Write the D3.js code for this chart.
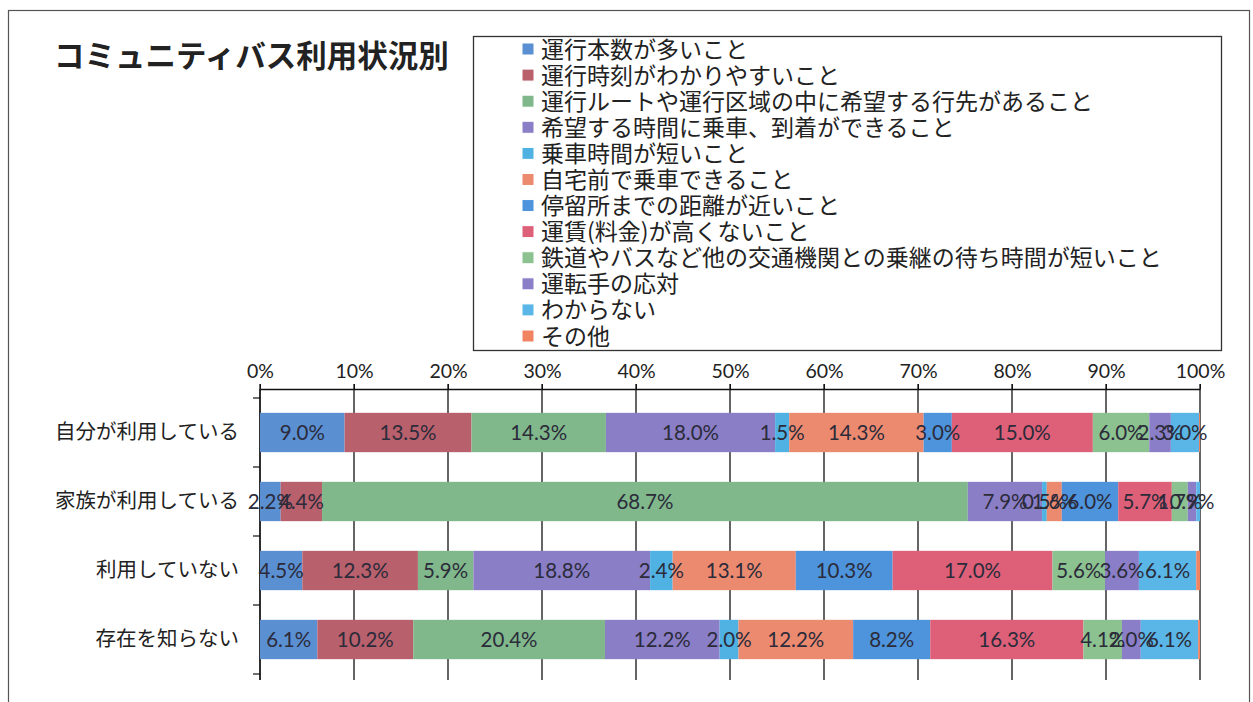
<!DOCTYPE html>
<html><head><meta charset="utf-8">
<script src="https://cdn.jsdelivr.net/npm/d3@7"></script>
<style>body{margin:0;background:#fff}svg{display:block}</style>
</head><body>
<svg id="c" width="1253" height="702"></svg>
<script>
const title = "コミュニティバス利用状況別";
const categories = ["自分が利用している","家族が利用している","利用していない","存在を知らない"];
const seriesNames = ["運行本数が多いこと","運行時刻がわかりやすいこと","運行ルートや運行区域の中に希望する行先があること","希望する時間に乗車、到着ができること","乗車時間が短いこと","自宅前で乗車できること","停留所までの距離が近いこと","運賃(料金)が高くないこと","鉄道やバスなど他の交通機関との乗継の待ち時間が短いこと","運転手の応対","わからない","その他"];
// values per category (percent), in series order
const valuesSelf    = [9.0,13.5,14.3,18.0,1.5,14.3,3.0,15.0,6.0,2.3,3.0,0.1];
const valuesFamily  = [2.2,4.4,68.7,7.9,0.5,1.6,6.0,5.7,1.7,0.9,0.4,0.0];
const valuesNotUse  = [4.5,12.3,5.9,18.8,2.4,13.1,10.3,17.0,5.6,3.6,6.1,0.4];
const valuesUnknown = [6.1,10.2,20.4,12.2,2.0,12.2,8.2,16.3,4.1,2.0,6.1,0.2];
const rows = [valuesSelf, valuesFamily, valuesNotUse, valuesUnknown];
const tickLabels = ["0%","10%","20%","30%","40%","50%","60%","70%","80%","90%","100%"];
const colors = ["#5a8fd2","#b8606c","#80b88c","#8a7ec6","#4fb2e2","#ec8a70","#4d94dc","#dd6078","#8cc190","#8a7ec8","#5ab6e6","#f08462"];

const svg = d3.select("#c");
const jp = "'Noto Sans CJK JP','Noto Sans',sans-serif";
const num = "Lato,'Noto Sans CJK JP',sans-serif";

// frame
svg.append("rect").attr("x",8.5).attr("y",10.5).attr("width",1241).attr("height",720)
  .attr("fill","none").attr("stroke","#555").attr("stroke-width",1.2);

svg.append("text").attr("x",54).attr("y",67).text(title)
  .attr("font-family",jp).attr("font-weight","bold").attr("font-size",30.5).attr("fill","#222");

// legend
svg.append("rect").attr("x",473.5).attr("y",36.5).attr("width",748).attr("height",314)
  .attr("fill","#fff").attr("stroke","#333").attr("stroke-width",1.3);
const ly = d3.scalePoint().domain(seriesNames).range([49,336]);
const lg = svg.append("g").selectAll("g").data(seriesNames).join("g")
  .attr("transform",d=>`translate(0,${ly(d)})`);
lg.append("rect").attr("x",522).attr("y",-6).attr("width",12).attr("height",12)
  .attr("fill",(d,i)=>colors[i]).attr("stroke","#fff").attr("stroke-width",1);
lg.append("text").attr("x",541).attr("y",8.5).text(d=>d)
  .attr("font-family",jp).attr("font-size",23).attr("fill","#222");

// scales
const x = d3.scaleLinear().domain([0,100]).range([260,1200]);
const y = d3.scaleBand().domain(categories).range([398,674]).paddingInner(0.43).paddingOuter(0.215);

// gridlines
const grid = svg.append("g");
grid.selectAll("line").data(d3.range(0,101,10)).join("line")
  .attr("x1",d=>x(d)).attr("x2",d=>x(d)).attr("y1",384).attr("y2",680)
  .attr("stroke","#111").attr("stroke-width",1.3);

// top axis
const xAxis = d3.axisTop(x).tickValues(d3.range(0,101,10)).tickFormat((d,i)=>tickLabels[i]).tickSize(5).tickSizeOuter(0);
const gx = svg.append("g").attr("transform","translate(0,389)").call(xAxis);
gx.select(".domain").attr("stroke","#111").attr("stroke-width",1.3);
gx.selectAll(".tick line").attr("stroke","#111");
gx.selectAll("text").attr("font-family",num).attr("font-size",19.5).attr("fill","#222").attr("dy","-0.15em");

// left axis
const yAxis = d3.axisLeft(y).tickSize(0).tickPadding(21);
const gy = svg.append("g").attr("transform","translate(260,0)").call(yAxis);
gy.select(".domain").remove();
gy.selectAll("text").attr("font-family",jp).attr("font-size",20.5).attr("fill","#222");
svg.append("line").attr("x1",260).attr("x2",260).attr("y1",389).attr("y2",680).attr("stroke","#111").attr("stroke-width",1.3);
const bounds = [398,467,536,605,674];
svg.append("g").selectAll("line").data(bounds).join("line")
  .attr("x1",253).attr("x2",260).attr("y1",d=>d).attr("y2",d=>d).attr("stroke","#111").attr("stroke-width",1.2);

// bars
const segs = [];
rows.forEach((vals,ri)=>{
  let acc = 0;
  vals.forEach((v,si)=>{ segs.push({cat:categories[ri],si,v,x0:acc,x1:acc+v}); acc+=v; });
});
const bars = svg.append("g");
bars.selectAll("rect").data(segs.filter(d=>d.v>0)).join("rect")
  .attr("x",d=>x(d.x0)).attr("width",d=>Math.max(0,x(d.x1)-x(d.x0)))
  .attr("y",d=>y(d.cat)).attr("height",y.bandwidth())
  .attr("fill",d=>colors[d.si]);
bars.selectAll("text").data(segs.filter(d=>d.v>=0.5)).join("text")
  .attr("x",d=>(x(d.x0)+x(d.x1))/2).attr("y",d=>y(d.cat)+y.bandwidth()/2+7.5)
  .attr("text-anchor","middle").text(d=>d.v.toFixed(1)+"%")
  .attr("font-family",num).attr("font-size",20.5).attr("fill","#2b2b3a");
</script>
</body></html>
